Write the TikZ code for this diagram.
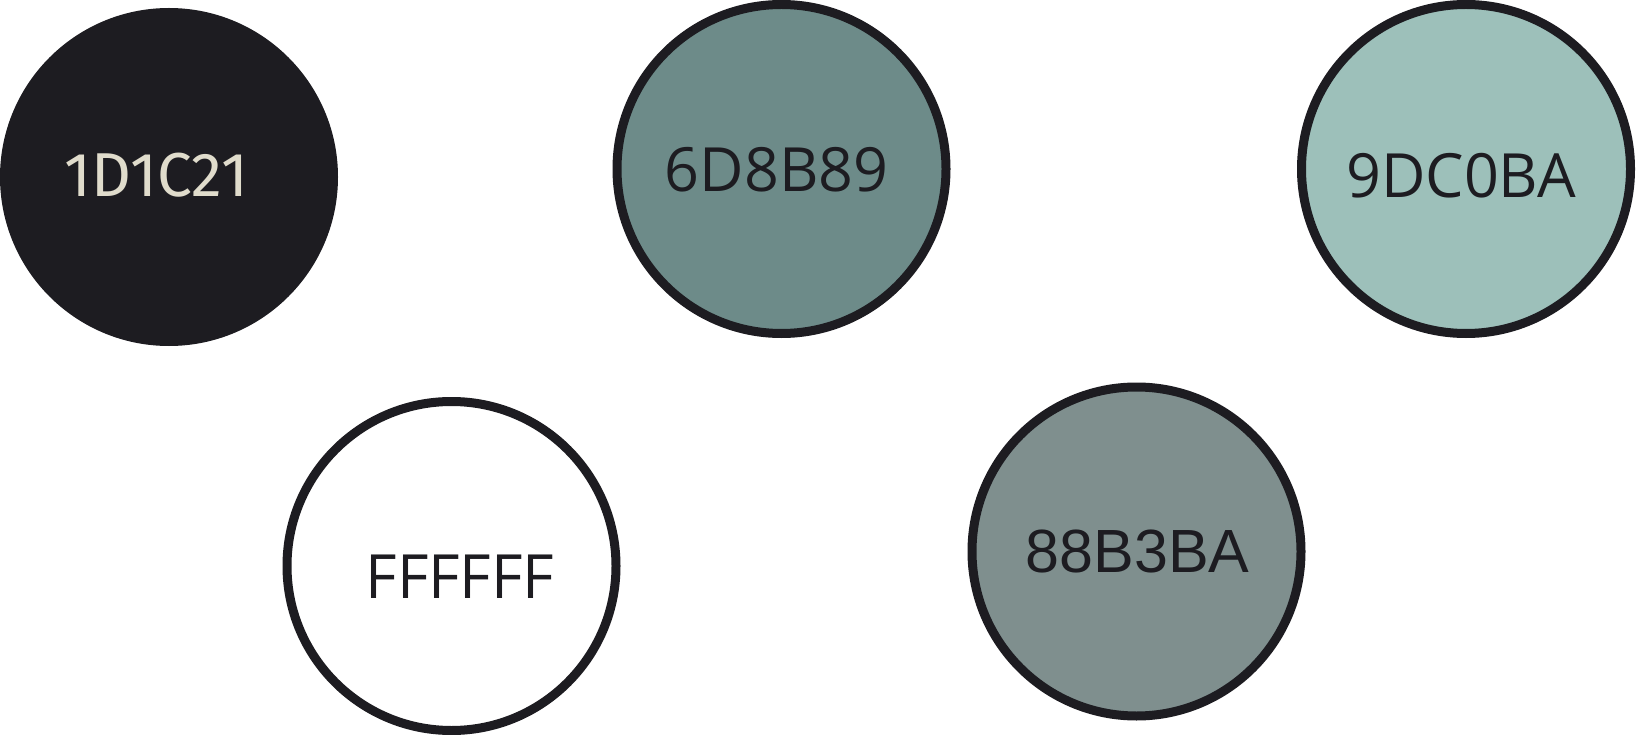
\documentclass[tikz,border=0pt]{standalone}
\usepackage{fontspec}
\setmainfont{Open Sans}
\newfontfamily\altfont{Liberation Sans}
\newfontfamily\firafont{Fira Sans}
\definecolor{ink}{HTML}{1D1C21}
\definecolor{paleink}{HTML}{E0DCCC}
\definecolor{cA}{HTML}{6D8B89}
\definecolor{cB}{HTML}{9DC0BA}
\definecolor{cC}{HTML}{7F8F8E}
\begin{document}
\begin{tikzpicture}[x=1pt,y=-1pt,
  ball/.style={circle, draw=ink, line width=9pt, minimum size=329pt, inner sep=0pt},
  lab/.style={anchor=base, inner sep=0pt, text=ink, font=\fontsize{61}{70}\selectfont}]
\fill[white] (0,0) rectangle (1636,735);
\useasboundingbox (0,0) rectangle (1636,735);
\node[ball, fill=ink] (c1) at (169,177) {};
\node[ball, fill=cA] (c2) at (781.5,169) {};
\node[ball, fill=cB] (c3) at (1466,169) {};
\node[ball, fill=white] (c4) at (451.5,566) {};
\node[ball, fill=cC] (c5) at (1136.5,551.5) {};
\node[lab, text=paleink, font=\firafont\fontsize{62}{70}\selectfont] (t1) at (156,197) {1D1C21};
\node[lab] (t2) at (776.5,192) {6D8B89};
\node[lab] (t3) at (1461,198) {9DC0BA};
\node[lab] (t4) at (460,598) {FFFFFF};
\node[lab, font=\altfont\fontsize{61}{70}\selectfont] (t5) at (1137.5,572) {88B3BA};
\end{tikzpicture}
\end{document}
